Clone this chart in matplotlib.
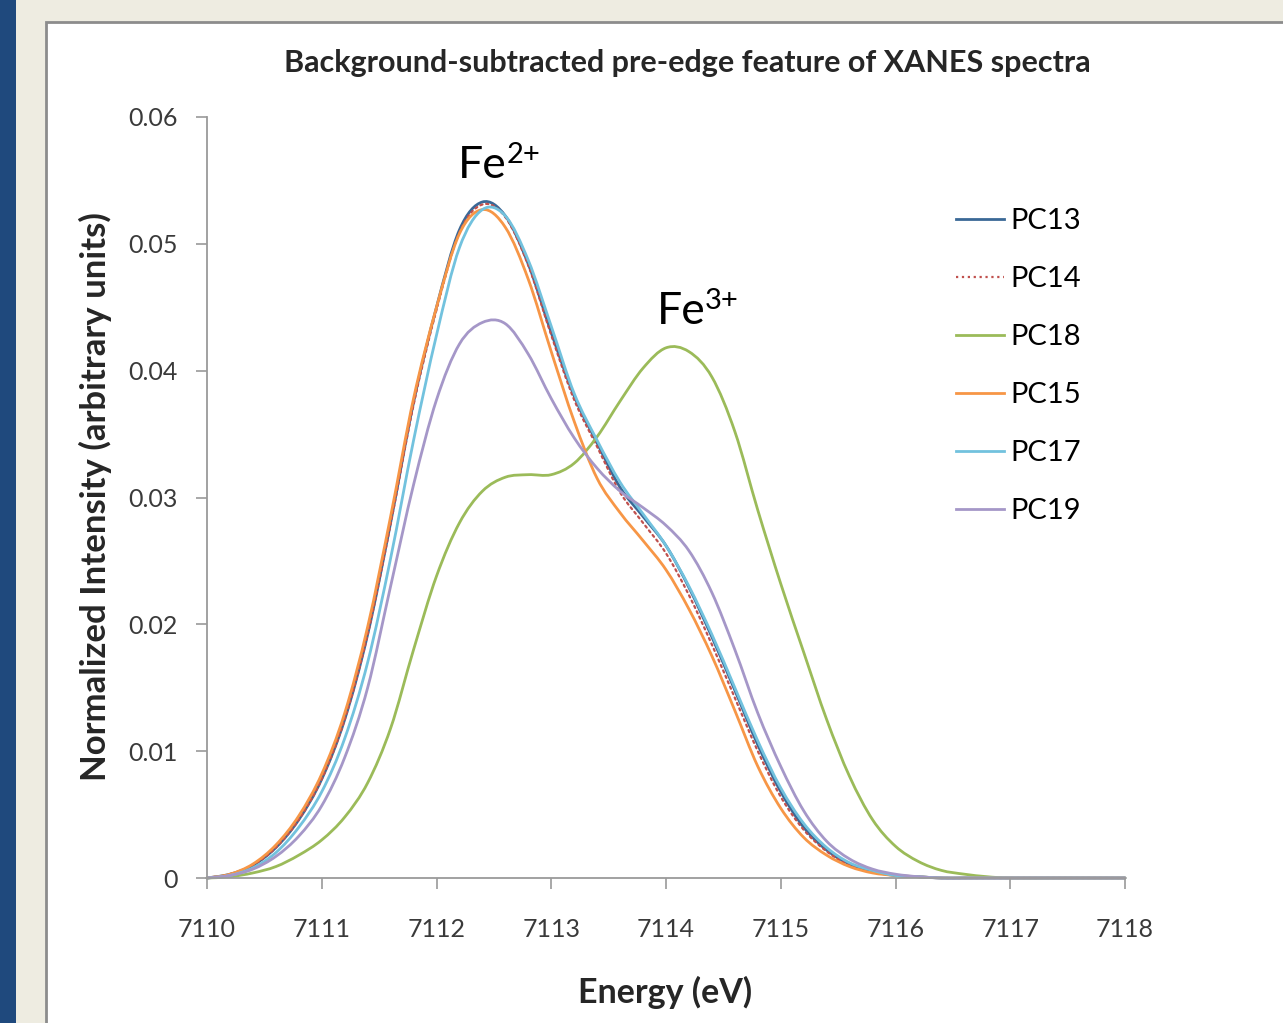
import matplotlib
matplotlib.use("Agg")
import matplotlib.pyplot as plt
from matplotlib.path import Path
from matplotlib.patches import PathPatch, Rectangle
from matplotlib.lines import Line2D
from matplotlib.transforms import offset_copy

plt.rcParams['font.family'] = ['Lato', 'DejaVu Sans']

# energy grid (eV) and background-subtracted pre-edge intensities
energy = [7110.0, 7110.2, 7110.4, 7110.6, 7110.8, 7111.0, 7111.2, 7111.4, 7111.6, 7111.8,
          7112.0, 7112.2, 7112.4, 7112.6, 7112.8, 7113.0, 7113.2, 7113.4, 7113.6, 7113.8,
          7114.0, 7114.2, 7114.4, 7114.6, 7114.8, 7115.0, 7115.2, 7115.4, 7115.6, 7115.8,
          7116.0, 7116.2, 7116.4, 7116.6, 7116.8, 7117.0, 7117.5, 7118.0]

pc13 = [0.0, 0.0003, 0.0010, 0.0024, 0.0046, 0.0078, 0.0125, 0.0192, 0.0280, 0.0375,
        0.0450, 0.0511, 0.0533, 0.0522, 0.0484, 0.0430, 0.0380, 0.0343, 0.0308, 0.0285,
        0.0262, 0.0229, 0.0190, 0.0148, 0.0105, 0.0068, 0.0040, 0.0022, 0.0011, 0.0005,
        0.0002, 0.0001, 0.0, 0.0, 0.0, 0.0, 0.0, 0.0]
pc14 = [0.0, 0.0003, 0.0010, 0.0024, 0.0046, 0.0078, 0.0125, 0.0192, 0.0279, 0.0373,
        0.0448, 0.0509, 0.0531, 0.0521, 0.0483, 0.0428, 0.0377, 0.0340, 0.0304, 0.0280,
        0.0256, 0.0223, 0.0184, 0.0142, 0.0100, 0.0064, 0.0038, 0.0021, 0.0010, 0.0005,
        0.0002, 0.0001, 0.0, 0.0, 0.0, 0.0, 0.0, 0.0]
pc18 = [0.0, 0.0001, 0.0004, 0.0009, 0.0018, 0.0030, 0.0048, 0.0075, 0.0118, 0.0180,
        0.0238, 0.0280, 0.0305, 0.0316, 0.0318, 0.0318, 0.0327, 0.0348, 0.0376, 0.0402,
        0.0418, 0.0415, 0.0395, 0.0352, 0.0290, 0.0232, 0.0178, 0.0125, 0.0080, 0.0046,
        0.0025, 0.0013, 0.0006, 0.0003, 0.0001, 0.0, 0.0, 0.0]
pc15 = [0.0, 0.0003, 0.0011, 0.0026, 0.0049, 0.0082, 0.0130, 0.0198, 0.0285, 0.0378,
        0.0450, 0.0508, 0.0527, 0.0513, 0.0472, 0.0415, 0.0360, 0.0315, 0.0288, 0.0266,
        0.0243, 0.0212, 0.0175, 0.0132, 0.0088, 0.0055, 0.0032, 0.0018, 0.0009, 0.0004,
        0.0002, 0.0001, 0.0, 0.0, 0.0, 0.0, 0.0, 0.0]
pc17 = [0.0, 0.0002, 0.0008, 0.0020, 0.0040, 0.0068, 0.0110, 0.0170, 0.0252, 0.0345,
        0.0428, 0.0497, 0.0527, 0.0522, 0.0487, 0.0435, 0.0382, 0.0345, 0.0312, 0.0287,
        0.0262, 0.0230, 0.0192, 0.0150, 0.0108, 0.0071, 0.0043, 0.0024, 0.0012, 0.0006,
        0.0002, 0.0001, 0.0, 0.0, 0.0, 0.0, 0.0, 0.0]
pc19 = [0.0, 0.0002, 0.0007, 0.0017, 0.0033, 0.0057, 0.0095, 0.0150, 0.0230, 0.0310,
        0.0377, 0.0421, 0.0438, 0.0437, 0.0413, 0.0378, 0.0347, 0.0323, 0.0305, 0.0292,
        0.0278, 0.0258, 0.0225, 0.0180, 0.0130, 0.0088, 0.0053, 0.0029, 0.0015, 0.0007,
        0.0003, 0.0001, 0.0, 0.0, 0.0, 0.0, 0.0, 0.0]

names = ['PC13', 'PC14', 'PC18', 'PC15', 'PC17', 'PC19']
series = [pc13, pc14, pc18, pc15, pc17, pc19]
colors = ['#3A6896', '#C0504D', '#9BBB59', '#F79646', '#72C2DE', '#A597C8']
styles = ['-', ':', '-', '-', '-', '-']

xticks = [7110, 7111, 7112, 7113, 7114, 7115, 7116, 7117, 7118]
yticks = [0, 0.01, 0.02, 0.03, 0.04, 0.05, 0.06]
ytick_labels = ['0', '0.01', '0.02', '0.03', '0.04', '0.05', '0.06']


def smooth_path(xs, ys):
    # Excel style smoothed line: Catmull-Rom segments written as cubic Bezier curves
    pts = list(zip(xs, ys))
    verts = [pts[0]]
    codes = [Path.MOVETO]
    n = len(pts)
    for i in range(n - 1):
        p0 = pts[max(i - 1, 0)]
        p1 = pts[i]
        p2 = pts[i + 1]
        p3 = pts[min(i + 2, n - 1)]
        c1 = (p1[0] + (p2[0] - p0[0]) / 6, p1[1] + (p2[1] - p0[1]) / 6)
        c2 = (p2[0] - (p3[0] - p1[0]) / 6, p2[1] - (p3[1] - p1[1]) / 6)
        verts += [c1, c2, p2]
        codes += [Path.CURVE4] * 3
    return Path(verts, codes)


W, H = 1283, 1023
fig = plt.figure(figsize=(W / 100, H / 100), dpi=100)
fig.patch.set_facecolor('#EEECE1')
fig.patches.append(Rectangle((0, 0), 16 / W, 1, transform=fig.transFigure,
                             facecolor='#1F497D', edgecolor='none', zorder=-10))
fig.patches.append(Rectangle((46 / W, -0.05), 1.0, 1 - 22 / H + 0.05, transform=fig.transFigure,
                             facecolor='white', edgecolor='#8C8C8C', linewidth=2, zorder=-10))

ax = fig.add_axes([207 / W, 1 - 878 / H, (1125 - 207) / W, (878 - 117) / H])
ax.set_facecolor('white')
ax.set_xlim(7110, 7118)
ax.set_ylim(0, 0.06)

handles = []
for name, ys, c, ls in zip(names, series, colors, styles):
    lw = 1.6 if ls == ':' else 2.0
    ax.add_patch(PathPatch(smooth_path(energy, ys), fill=False, edgecolor=c,
                           linewidth=lw, linestyle=ls, capstyle='round', clip_on=False))
    handles.append(Line2D([], [], color=c, linewidth=lw, linestyle=ls, label=name))

for s in ['top', 'right']:
    ax.spines[s].set_visible(False)
for s in ['left', 'bottom']:
    ax.spines[s].set_color('#9A9A9A')
    ax.spines[s].set_linewidth(1.3)

ax.set_xticks(xticks)
ax.set_xticklabels([str(t) for t in xticks])
ax.set_yticks(yticks)
ax.set_yticklabels(ytick_labels)
ax.tick_params(axis='both', direction='out', length=8, width=1.2, color='#9A9A9A',
               labelsize=18, labelcolor='#3A3A3A')
ax.tick_params(axis='x', pad=21)
ax.tick_params(axis='y', pad=13)

ax.legend(handles=handles, loc='upper left', bbox_to_anchor=(956 / W, 1 - 208 / H),
          bbox_transform=fig.transFigure, frameon=False, fontsize=21,
          borderaxespad=0, borderpad=0, handlelength=1.65, handletextpad=0.22,
          labelspacing=1.1)

# oxidation state labels: element symbol plus raised charge
for xe, ye, charge in [(7112.19, 0.0552, '2+'), (7113.92, 0.0437, '3+')]:
    ax.text(xe, ye, 'Fe', fontsize=32, ha='left', va='baseline', color='black')
    ax.text(xe, ye, charge, fontsize=21, ha='left', va='baseline', color='black',
            transform=offset_copy(ax.transData, fig=fig, x=48, y=15, units='dots'))

fig.text(687 / W, 1 - 63 / H, 'Background-subtracted pre-edge feature of XANES spectra',
         ha='center', va='center', fontsize=22, fontweight='bold', color='#262626')
fig.text(95 / W, 1 - 497 / H, 'Normalized Intensity (arbitrary units)', rotation=90,
         ha='center', va='center', fontsize=25, fontweight='bold', color='#262626')
fig.text(665 / W, 1 - 992 / H, 'Energy (eV)', ha='center', va='center',
         fontsize=24.5, fontweight='bold', color='#262626')

fig.savefig('out.png', dpi=100, facecolor=fig.get_facecolor())
